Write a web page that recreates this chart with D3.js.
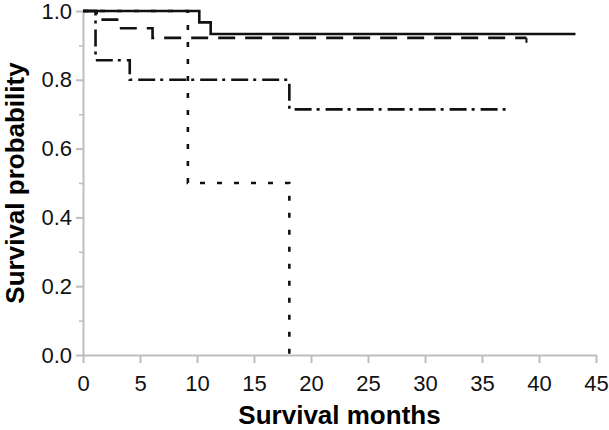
<!DOCTYPE html>
<html>
<head>
<meta charset="utf-8">
<script src="https://cdn.jsdelivr.net/npm/d3@7"></script>
<style>
  body { margin: 0; background: #fff; }
  text { font-family: "Liberation Sans", Arial, sans-serif; }
</style>
</head>
<body>
<div id="chart"></div>
<script>
// Kaplan-Meier curves (months, survival)
const solidTimes = [0, 10.2, 11.2, 43.2];
const solidSurv = [1, 0.967, 0.933, 0.933];

const dashedTimes = [0, 1.2, 3.2, 6.1, 38.9];
const dashedSurv = [1, 0.975, 0.95, 0.922, 0.922];
const dashedCensor = [38.9];

const dashDotTimes = [0, 1.1, 4.1, 18.1, 37.2];
const dashDotSurv = [1, 0.857, 0.8, 0.714, 0.714];

const dottedTimes = [0, 9.2, 18.1];
const dottedSurv = [1, 0.5, 0];

const xTicks = [0, 5, 10, 15, 20, 25, 30, 35, 40, 45];
const yTicks = [0, 0.2, 0.4, 0.6, 0.8, 1.0];
const yMinorTicks = [0.1, 0.3, 0.5, 0.7, 0.9];

const width = 609, height = 430;
const margin = {top: 11, right: 13, bottom: 75, left: 83};
const w = width - margin.left - margin.right;
const h = height - margin.top - margin.bottom;

const svg = d3.select('#chart').append('svg')
    .attr('width', width)
    .attr('height', height);

const chart = svg.append('g')
    .attr('transform', `translate(${margin.left},${margin.top})`);

const x = d3.scaleLinear().domain([0, 45]).range([0, w]);
const y = d3.scaleLinear().domain([0, 1]).range([h, 0]);

const axisColor = '#bdbdbd';

// x axis
const xAxisG = chart.append('g')
    .attr('transform', `translate(0,${h})`)
    .call(d3.axisBottom(x).tickValues(xTicks).tickSize(8).tickSizeOuter(0).tickFormat(d3.format('d')));
xAxisG.select('.domain').attr('stroke', axisColor).attr('stroke-width', 2);
xAxisG.selectAll('.tick line').attr('stroke', axisColor).attr('stroke-width', 2);
xAxisG.selectAll('.tick text')
    .attr('fill', '#111')
    .attr('font-size', 22)
    .attr('y', 20);

// y axis, minor ticks first
const yMinorG = chart.append('g')
    .call(d3.axisLeft(y).tickValues(yMinorTicks).tickSize(4).tickFormat(''));
yMinorG.select('.domain').remove();
yMinorG.selectAll('.tick line').attr('stroke', axisColor).attr('stroke-width', 1.5);

const yAxisG = chart.append('g')
    .call(d3.axisLeft(y).tickValues(yTicks).tickSize(7).tickSizeOuter(0).tickFormat(d3.format('.1f')));
yAxisG.select('.domain').attr('stroke', axisColor).attr('stroke-width', 2);
yAxisG.selectAll('.tick text')
    .attr('fill', '#111')
    .attr('font-size', 22)
    .attr('x', -11);
yAxisG.selectAll('.tick line').attr('stroke', axisColor).attr('stroke-width', 2);

// axis titles
svg.append('text')
    .attr('x', margin.left + w / 2)
    .attr('y', 424)
    .attr('text-anchor', 'middle')
    .attr('font-size', 26)
    .attr('font-weight', 'bold')
    .text('Survival months');

svg.append('text')
    .attr('transform', `translate(24,${margin.top + h / 2}) rotate(-90)`)
    .attr('text-anchor', 'middle')
    .attr('font-size', 26)
    .attr('font-weight', 'bold')
    .text('Survival probability');

// curves
const line = d3.line()
    .x(d => x(d[0]))
    .y(d => y(d[1]))
    .curve(d3.curveStepAfter);

const series = [
  {t: dottedTimes, s: dottedSurv, dash: '5,12'},
  {t: dashDotTimes, s: dashDotSurv, dash: '17,5,3,6'},
  {t: dashedTimes, s: dashedSurv, dash: '17,10'},
  {t: solidTimes, s: solidSurv, dash: null}
];

chart.selectAll('.km')
    .data(series)
    .join('path')
    .attr('class', 'km')
    .attr('d', d => line(d3.zip(d.t, d.s)))
    .attr('fill', 'none')
    .attr('stroke', '#111')
    .attr('stroke-width', 2.6)
    .attr('stroke-dasharray', d => d.dash);

// censor mark on the dashed curve
chart.selectAll('.censor')
    .data(dashedCensor)
    .join('line')
    .attr('class', 'censor')
    .attr('x1', d => x(d))
    .attr('x2', d => x(d))
    .attr('y1', y(0.922))
    .attr('y2', y(0.922) + 5)
    .attr('stroke', '#111')
    .attr('stroke-width', 2);
</script>
</body>
</html>
